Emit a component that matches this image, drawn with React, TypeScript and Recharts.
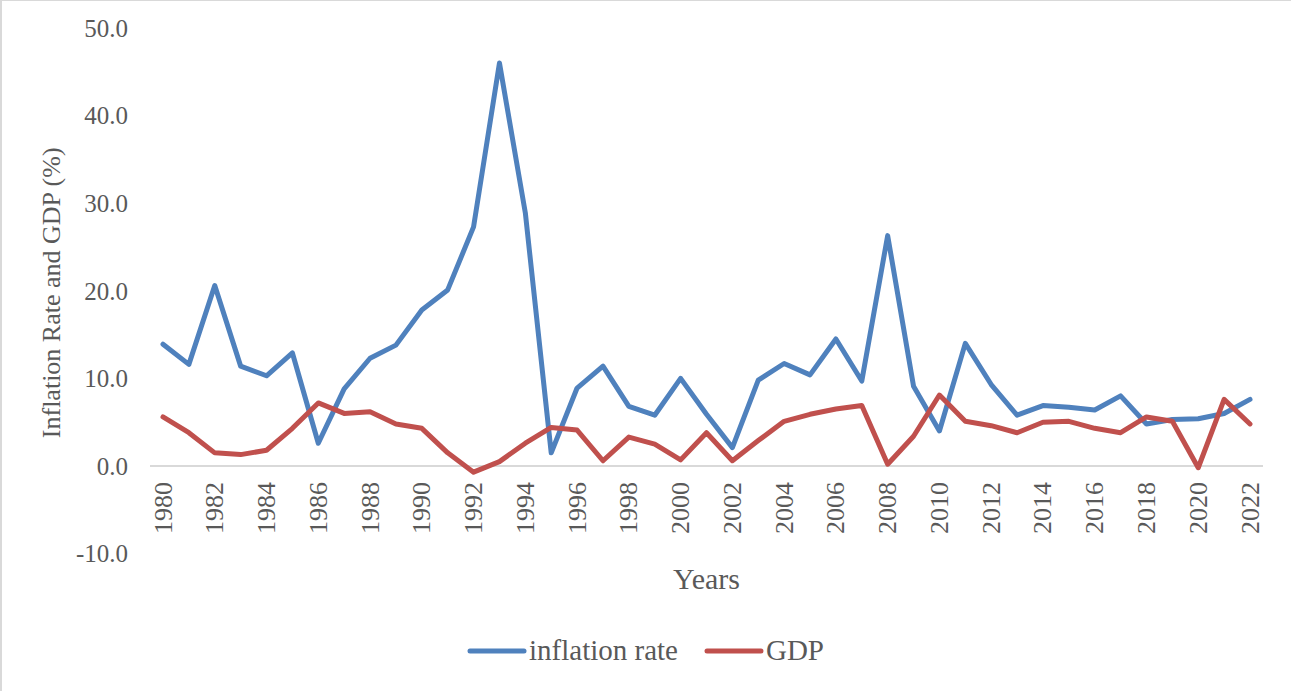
import React from 'react'
import { LineChart, Line, XAxis, YAxis, ReferenceLine } from 'recharts'

const years = [
  '1980', '1981', '1982', '1983', '1984', '1985', '1986', '1987', '1988', '1989',
  '1990', '1991', '1992', '1993', '1994', '1995', '1996', '1997', '1998', '1999',
  '2000', '2001', '2002', '2003', '2004', '2005', '2006', '2007', '2008', '2009',
  '2010', '2011', '2012', '2013', '2014', '2015', '2016', '2017', '2018', '2019',
  '2020', '2021', '2022',
]

const inflationRate = [
  13.9, 11.6, 20.6, 11.4, 10.3, 12.9, 2.6, 8.8, 12.3, 13.8,
  17.8, 20.1, 27.3, 46.0, 28.9, 1.5, 8.9, 11.4, 6.8, 5.8,
  10.0, 5.9, 2.1, 9.8, 11.7, 10.4, 14.5, 9.7, 26.3, 9.1,
  4.0, 14.0, 9.3, 5.8, 6.9, 6.7, 6.4, 8.0, 4.8, 5.3,
  5.4, 6.0, 7.6,
]

const gdp = [
  5.6, 3.8, 1.5, 1.3, 1.8, 4.3, 7.2, 6.0, 6.2, 4.8,
  4.3, 1.5, -0.7, 0.5, 2.6, 4.4, 4.1, 0.6, 3.3, 2.5,
  0.7, 3.8, 0.6, 2.9, 5.1, 5.9, 6.5, 6.9, 0.2, 3.4,
  8.1, 5.1, 4.6, 3.8, 5.0, 5.1, 4.3, 3.8, 5.6, 5.1,
  -0.2, 7.6, 4.8,
]

const yTicks = [-10, 0, 10, 20, 30, 40, 50]

const series = [
  { key: 'inflation', name: 'inflation rate', color: '#4F81BD' },
  { key: 'gdp', name: 'GDP', color: '#C0504D' },
]

const data = years.map((year, i) => ({ year, inflation: inflationRate[i], gdp: gdp[i] }))

const W = 1291
const H = 691
const TOP = 28
const PLOT_H = 525.6
const LEFT = 150
const RIGHT = 28
const X_AXIS_H = 30
const FONT = '"Liberation Serif", "Times New Roman", serif'
const TEXT = '#595959'

// the x labels sit under the zero line, not under the plot bottom
const zeroY = TOP + PLOT_H * (50 / 60)

const YearTick = (props: any) => {
  const { x, payload } = props
  return (
    <text
      x={x}
      y={zeroY + 16}
      transform={`rotate(-90, ${x}, ${zeroY + 16})`}
      textAnchor="end"
      dominantBaseline="central"
      fill={TEXT}
      fontSize={26}
      fontFamily={FONT}
    >
      {payload.value}
    </text>
  )
}

export default function App() {
  return (
    <div style={{ position: 'absolute', left: 0, top: 0, width: W, height: H, background: '#fff' }}>
      <div
        style={{
          position: 'absolute', left: 0, top: 0, width: W, height: H, boxSizing: 'border-box',
          borderLeft: '2px solid #D9D9D9', borderTop: '1px solid #D9D9D9', pointerEvents: 'none',
        }}
      />
      <LineChart
        width={W}
        height={H}
        data={data}
        margin={{ top: TOP, right: RIGHT, left: 0, bottom: H - TOP - PLOT_H - X_AXIS_H }}
      >
        <XAxis
          dataKey="year"
          interval={1}
          height={X_AXIS_H}
          axisLine={false}
          tickLine={false}
          padding={{ left: 13, right: 13 }}
          tick={<YearTick />}
          label={{
            content: () => (
              <text
                x={LEFT + (W - RIGHT - LEFT) / 2}
                y={578}
                textAnchor="middle"
                dominantBaseline="central"
                fill={TEXT}
                fontSize={30}
                fontFamily={FONT}
              >
                Years
              </text>
            ),
          }}
        />
        <YAxis
          width={LEFT}
          domain={[-10, 50]}
          ticks={yTicks}
          axisLine={false}
          tickLine={false}
          tickMargin={16}
          tickFormatter={(v: number) => v.toFixed(1)}
          tick={{ fill: TEXT, fontSize: 25, fontFamily: FONT }}
          label={{
            content: () => (
              <text
                x={52}
                y={TOP + PLOT_H / 2 + 2}
                transform={`rotate(-90, 52, ${TOP + PLOT_H / 2 + 2})`}
                textAnchor="middle"
                dominantBaseline="central"
                fill={TEXT}
                fontSize={26}
                fontFamily={FONT}
              >
                Inflation Rate and GDP (%)
              </text>
            ),
          }}
        />
        <ReferenceLine y={0} stroke="#D9D9D9" strokeWidth={2} />
        {series.map((s) => (
          <Line
            key={s.key}
            type="linear"
            dataKey={s.key}
            name={s.name}
            stroke={s.color}
            strokeWidth={5}
            strokeLinejoin="round"
            strokeLinecap="round"
            dot={false}
            activeDot={false}
            isAnimationActive={false}
          />
        ))}
      </LineChart>
      <div
        style={{
          position: 'absolute', left: 0, top: 634, width: W, display: 'flex', justifyContent: 'center',
          alignItems: 'center', gap: 26, fontFamily: FONT, fontSize: 29, color: TEXT,
        }}
      >
        {series.map((s) => (
          <div key={s.key} style={{ display: 'flex', alignItems: 'center' }}>
            <svg width={60} height={10} style={{ marginRight: 2 }}>
              <line x1={3} y1={5} x2={57} y2={5} stroke={s.color} strokeWidth={5} strokeLinecap="round" />
            </svg>
            <span>{s.name}</span>
          </div>
        ))}
      </div>
    </div>
  )
}
